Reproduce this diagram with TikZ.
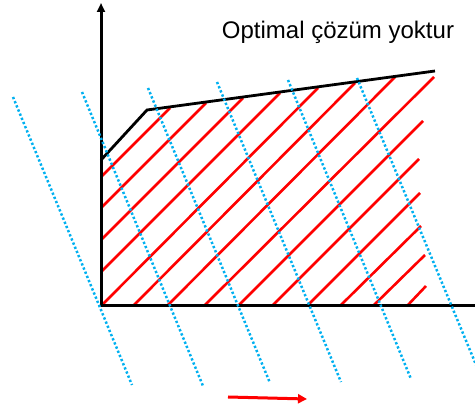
\documentclass[tikz,border=0pt]{standalone}
\usepackage{fontspec}
\setmainfont{Liberation Sans}
\usetikzlibrary{arrows.meta}
\definecolor{taramared}{RGB}{255, 0, 0}
\definecolor{amacblue}{RGB}{0, 176, 240}
\tikzset{
  eksen/.style={line width=3pt, -{Triangle[length=9pt, width=8pt]}},
  sinir/.style={line width=2.8pt, line join=miter},
  tarama/.style={line width=2.6pt, color=taramared},
  amacdogru/.style={line width=2.5pt, color=amacblue, dash pattern=on 2.3pt off 2.2pt},
  yonok/.style={line width=3pt, color=taramared, -{Triangle[length=9pt, width=9pt]}},
}

\begin{document}
\begin{tikzpicture}[x=1pt, y=-1pt]
  \clip (0,0) rectangle (475,406);
  % tarali bolge
  \foreach \xa/\ya/\xb/\yb in {101/177/170/108, 101/208/206/103, 101/240/243/98,
      101/272/280/93, 101/306/318/88, 133/306/355/83, 167/306/395/77,
      204/306/434/77, 238/306/423/121, 272/306/419/159, 307/306/420/193,
      340/306/421/226, 373/306/425/255, 407/306/426/286}
    \draw[tarama] (\xa,\ya) -- (\xb,\yb);
  % kisit siniri
  \draw[sinir] (101,160) -- (147,110) -- (435,71);
  % eksenler
  \draw[eksen] (101,307.5) -- (101,3);
  \draw[eksen] (99.5,306) -- (484,306);
  % amac fonksiyonu dogrulari
  \foreach \xa/\ya/\xb/\yb in {13/97/132/385, 82/92/203/386, 148/88/270/383,
      217/82/341/382, 288/80/411/379, 357/78/484/384}
    \draw[amacdogru] (\xa,\ya) -- (\xb,\yb);
  \draw[yonok] (228,397) -- (307,399);
  \node[font=\fontsize{24}{28}\selectfont] (baslik) at (338,32) {Optimal çözüm yoktur};
\end{tikzpicture}
\end{document}
